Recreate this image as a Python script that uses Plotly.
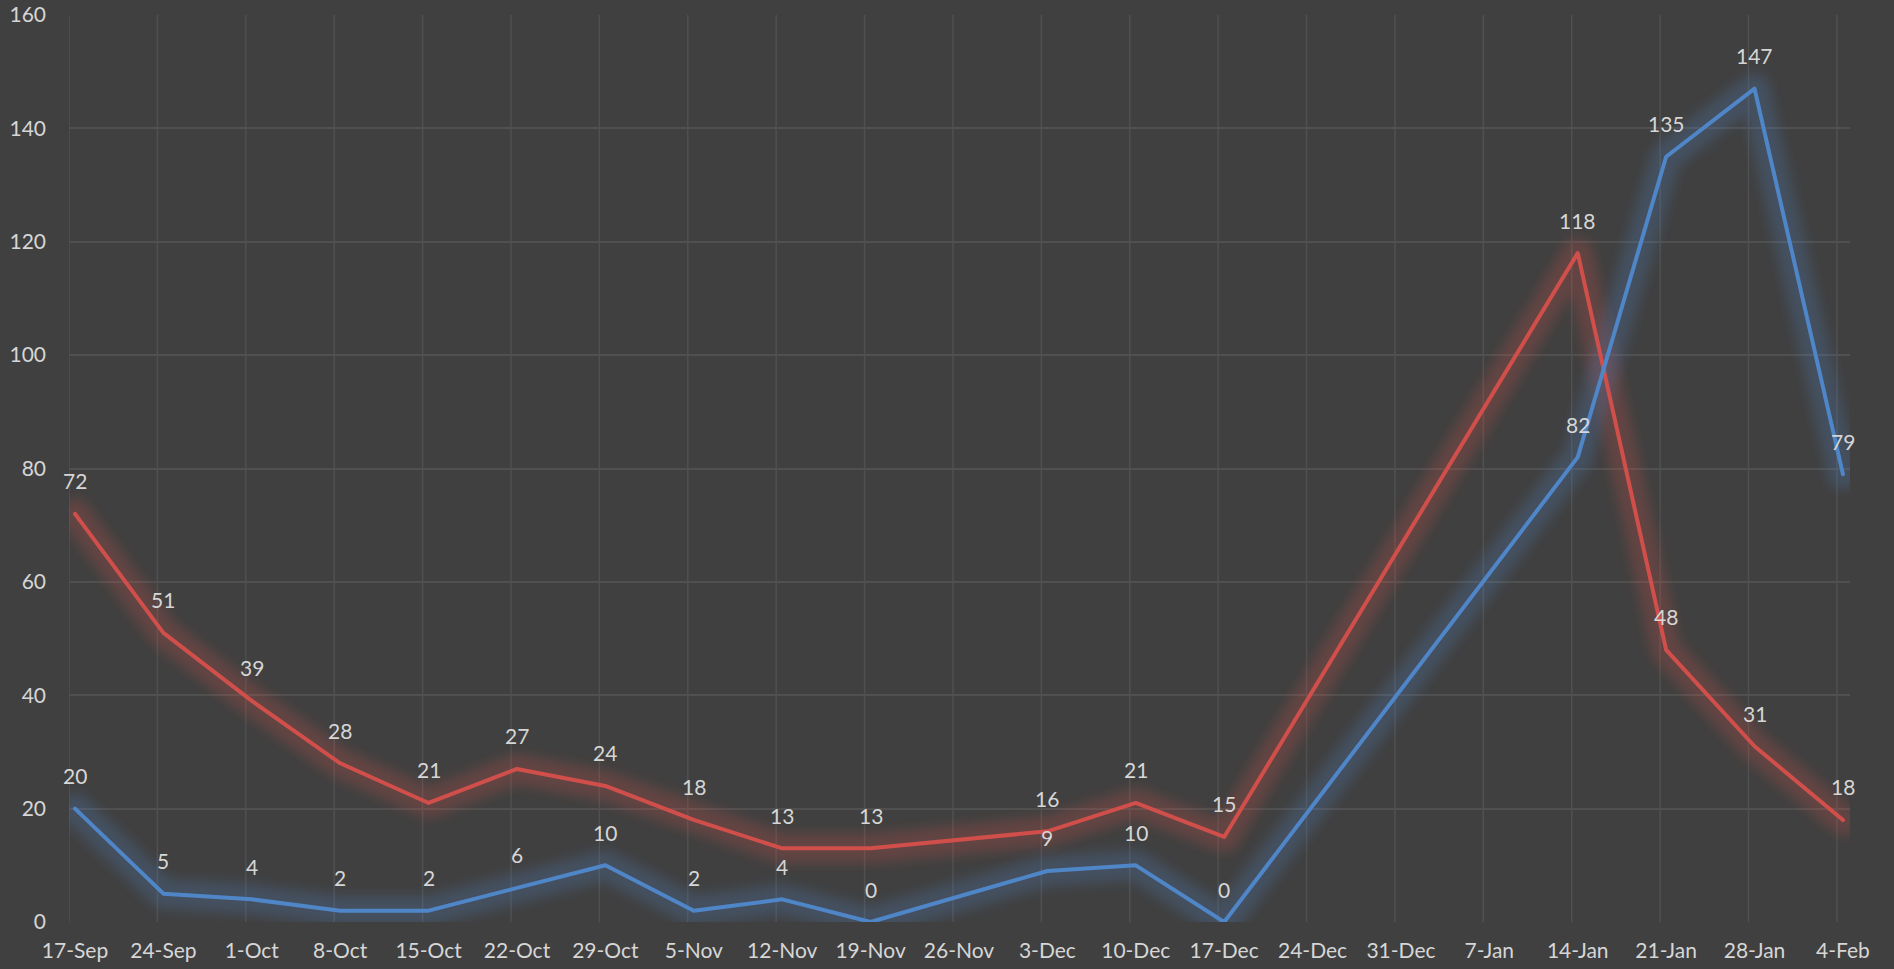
import plotly.graph_objects as go

categories = ["17-Sep", "24-Sep", "1-Oct", "8-Oct", "15-Oct", "22-Oct", "29-Oct",
              "5-Nov", "12-Nov", "19-Nov", "26-Nov", "3-Dec", "10-Dec", "17-Dec",
              "24-Dec", "31-Dec", "7-Jan", "14-Jan", "21-Jan", "28-Jan", "4-Feb"]
red_values = [72, 51, 39, 28, 21, 27, 24, 18, 13, 13, None, 16, 21, 15,
              None, None, None, 118, 48, 31, 18]
blue_values = [20, 5, 4, 2, 2, 6, 10, 2, 4, 0, None, 9, 10, 0,
               None, None, None, 82, 135, 147, 79]
y_ticks = [0, 20, 40, 60, 80, 100, 120, 140, 160]

RED = "#d14f4b"
BLUE = "#4f86c8"
BG = "#404040"
TEXT = "#d6d6d6"
GRID = "#505050"
FONT = "Lato, 'Open Sans', sans-serif"

xs = list(range(len(categories)))
fig = go.Figure()

def rgba(hex_color, a):
    h = hex_color.lstrip("#")
    r, g, b = int(h[0:2], 16), int(h[2:4], 16), int(h[4:6], 16)
    return f"rgba({r},{g},{b},{a})"

# glow traces (blurred afterwards via SVG filter)
for vals, col in [(red_values, RED), (blue_values, BLUE)]:
    fig.add_trace(go.Scatter(x=xs, y=vals, mode="lines", connectgaps=True,
                             line=dict(color=rgba(col, 0.24), width=30),
                             hoverinfo="skip", showlegend=False))
for vals, col in [(red_values, RED), (blue_values, BLUE)]:
    fig.add_trace(go.Scatter(x=xs, y=vals, mode="lines", connectgaps=True,
                             line=dict(color=col, width=4),
                             showlegend=False))

annotations = []
for vals in (red_values, blue_values):
    for i, v in enumerate(vals):
        if v is None:
            continue
        annotations.append(dict(x=i, y=v, text=str(v), showarrow=False,
                                yshift=33, font=dict(size=21, color=TEXT, family=FONT)))

grid_offset = 0.068
shapes = [dict(type="line", xref="x", yref="paper", x0=i - grid_offset, x1=i - grid_offset,
               y0=0, y1=1, line=dict(color=GRID, width=1.5), layer="below")
          for i in xs]

fig.update_layout(
    width=1894, height=969,
    paper_bgcolor=BG, plot_bgcolor=BG,
    margin=dict(l=69, r=44, t=15, b=47),
    font=dict(family=FONT, color=TEXT, size=21),
    annotations=annotations,
    shapes=shapes,
    showlegend=False,
)
fig.update_xaxes(range=[-grid_offset, 20.08], tickmode="array", tickvals=xs,
                 ticktext=categories, showgrid=False, zeroline=False, showline=False,
                 automargin=False,
                 ticks="", ticklabelstandoff=14, tickfont=dict(size=21, color=TEXT))
fig.update_yaxes(range=[0, 160], tickmode="array", tickvals=y_ticks,
                 showgrid=True, gridcolor=GRID, gridwidth=1.5, zeroline=False,
                 showline=False, ticks="", ticklabelstandoff=22, automargin=False,
                 tickfont=dict(size=21, color=TEXT))

post = """
var st=document.createElement('style');
st.innerHTML='html,body{margin:0;padding:0;background:#404040;} .js-line{stroke-linejoin:round !important;stroke-linecap:round !important;}';
document.head.appendChild(st);
var gd=document.getElementById('{plot_id}');
var svg=gd.querySelector('svg.main-svg');
var ns='http://www.w3.org/2000/svg';
var defs=svg.querySelector('defs');
if(!defs){defs=document.createElementNS(ns,'defs');svg.insertBefore(defs,svg.firstChild);}
var f=document.createElementNS(ns,'filter');
f.setAttribute('id','glowblur');
f.setAttribute('filterUnits','userSpaceOnUse');
f.setAttribute('x','-200');f.setAttribute('y','-200');
f.setAttribute('width','2400');f.setAttribute('height','1400');
var b=document.createElementNS(ns,'feGaussianBlur');
b.setAttribute('stdDeviation','6');
f.appendChild(b);defs.appendChild(f);
var tr=gd.querySelectorAll('g.trace.scatter');
for(var k=0;k<2&&k<tr.length;k++){var p=tr[k].querySelector('path.js-line'); if(p){p.setAttribute('filter','url(#glowblur)');}}
"""
fig.write_html("out.html", post_script=post, config={"displayModeBar": False})
